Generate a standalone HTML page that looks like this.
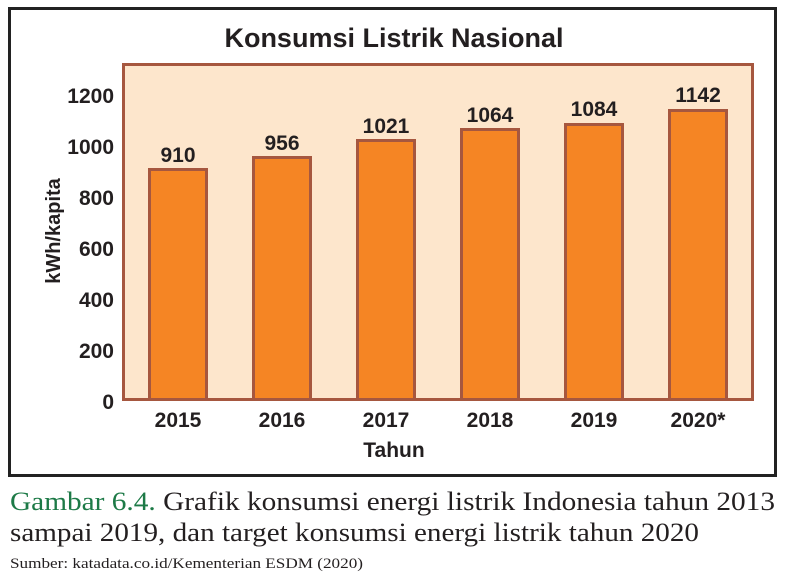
<!DOCTYPE html>
<html><head><meta charset="utf-8"><style>
body{margin:0;background:#fff;}
svg{display:block;}
</style></head><body>
<svg width="789" height="579" xmlns="http://www.w3.org/2000/svg" font-family="Liberation Sans, sans-serif">
<rect x="9.5" y="8.5" width="766" height="467" fill="#fff" stroke="#222" stroke-width="3"/>
<text x="394" y="47" text-anchor="middle" font-size="27" font-weight="bold" fill="#231f20">Konsumsi Listrik Nasional</text>
<rect x="123.5" y="64.5" width="629" height="335" fill="#fde6cc" stroke="#a6573f" stroke-width="3"/>
<g fill="#f58524" stroke="#a6573f" stroke-width="3">
<rect x="149.5" y="169.5" width="57" height="230"/>
<rect x="253.5" y="157.5" width="57" height="242"/>
<rect x="357.5" y="140.5" width="57" height="259"/>
<rect x="461.5" y="129.5" width="57" height="270"/>
<rect x="565.5" y="124.5" width="57" height="275"/>
<rect x="669.5" y="110.5" width="57" height="289"/>
</g>
<g font-size="21" font-weight="bold" fill="#231f20" text-anchor="middle">
<text x="178" y="162">910</text>
<text x="282" y="150">956</text>
<text x="386" y="133">1021</text>
<text x="490" y="122">1064</text>
<text x="594" y="116">1084</text>
<text x="698" y="102">1142</text>
<text x="178" y="427">2015</text>
<text x="282" y="427">2016</text>
<text x="386" y="427">2017</text>
<text x="490" y="427">2018</text>
<text x="594" y="427">2019</text>
<text x="698" y="427">2020*</text>
<text x="394" y="457">Tahun</text>
</g>
<g font-size="21" font-weight="bold" fill="#231f20" text-anchor="end">
<text x="114" y="103">1200</text>
<text x="114" y="154">1000</text>
<text x="114" y="205">800</text>
<text x="114" y="256">600</text>
<text x="114" y="307">400</text>
<text x="114" y="358">200</text>
<text x="114" y="409">0</text>
</g>
<text transform="translate(60,231) rotate(-90)" text-anchor="middle" font-size="20" font-weight="bold" fill="#231f20">kWh/kapita</text>
<g font-family="Liberation Serif, serif" fill="#231f20">
<text x="10" y="510" font-size="26" textLength="765" lengthAdjust="spacingAndGlyphs"><tspan fill="#1d7a47">Gambar 6.4.</tspan> Grafik konsumsi energi listrik Indonesia tahun 2013</text>
<text x="10" y="541" font-size="26" textLength="689" lengthAdjust="spacingAndGlyphs">sampai 2019, dan target konsumsi energi listrik tahun 2020</text>
<text x="10" y="568" font-size="15" textLength="353" lengthAdjust="spacingAndGlyphs">Sumber: katadata.co.id/Kementerian ESDM (2020)</text>
</g>
</svg>
</body></html>
